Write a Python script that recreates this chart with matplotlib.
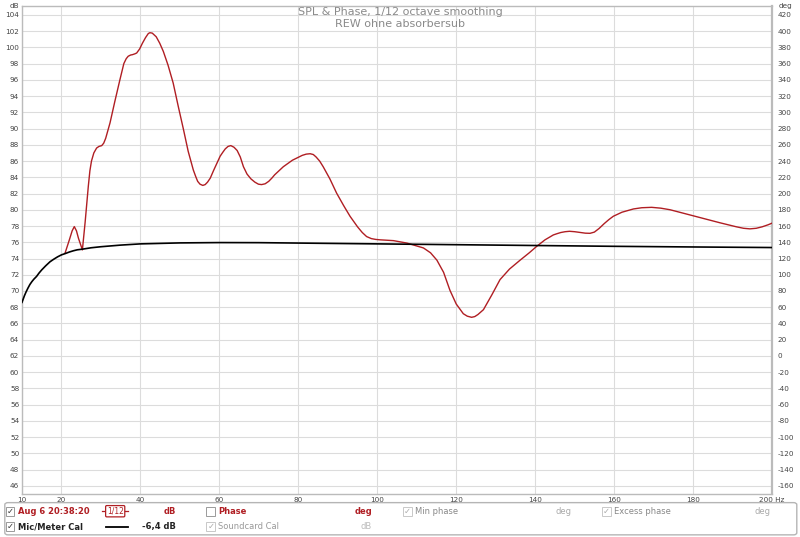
"""
REW style SPL & Phase plot (1/12 octave smoothing), recreated with matplotlib.
"""
import numpy as np
import matplotlib
matplotlib.use("Agg")
import matplotlib.pyplot as plt
from matplotlib.patches import FancyBboxPatch, Rectangle

# ── Data ───────────────────────────────────────────────────────────────
spl_freq = [20.9, 22.0, 22.7, 23.25, 23.8, 24.3, 25.3, 26.0, 26.8, 27.2,
            27.6, 28.2, 28.9, 29.5, 30.2, 30.7, 31.2, 32.3, 33.5, 34.8,
            35.8, 36.4, 36.9, 37.5, 38.0, 38.6, 39.05, 39.8, 40.5, 41.3,
            42.0, 42.4, 43.0, 44.0, 44.9, 45.8, 47.0, 48.3, 49.6, 50.9,
            52.1, 53.4, 54.0, 54.5, 55.1, 55.8, 56.4, 57.0, 57.7, 58.5,
            60.2, 60.9, 61.5, 62.2, 62.9, 63.7, 64.5, 65.3, 66.1, 67.0,
            68.0, 69.0, 69.9, 70.7, 71.6, 72.5, 73.3, 74.0, 76.2, 78.5,
            81.0, 82.0, 83.0, 83.8, 84.5, 85.4, 86.3, 88.0, 89.7, 91.5,
            93.1, 95.0, 96.2, 97.3, 98.5, 99.6, 100.7, 104.1, 107.5, 111.7,
            113.5, 115.1, 116.8, 118.4, 120.0, 121.8, 122.8, 123.9, 124.7, 125.5,
            126.9, 129.0, 131.1, 133.5, 136.2, 138.5, 140.4, 142.5, 144.6, 145.5,
            146.5, 147.6, 148.7, 150.0, 151.4, 152.7, 153.9, 155.0, 156.2, 157.5,
            158.7, 159.8, 162.0, 164.9, 167.0, 169.5, 171.8, 174.2, 180.1, 186.8,
            191.0, 192.8, 194.4, 196.0, 197.5, 199.0, 200.0]
spl_db = [74.65, 76.3, 77.4, 77.93, 77.4, 76.5, 75.06, 78.5, 82.9, 84.8,
          86.0, 87.0, 87.6, 87.8, 87.9, 88.2, 88.8, 90.7, 93.3, 96.0,
          98.0, 98.6, 98.9, 99.05, 99.1, 99.2, 99.3, 99.8, 100.5, 101.2,
          101.7, 101.8, 101.75, 101.3, 100.5, 99.5, 97.8, 95.6, 92.7, 89.9,
          87.2, 84.9, 84.1, 83.5, 83.15, 83.0, 83.1, 83.4, 83.9, 84.8,
          86.6, 87.1, 87.5, 87.8, 87.9, 87.7, 87.3, 86.5, 85.3, 84.4,
          83.8, 83.4, 83.15, 83.1, 83.2, 83.5, 83.9, 84.3, 85.3, 86.1,
          86.7, 86.85, 86.9, 86.8, 86.5, 86.0, 85.3, 83.8, 82.05, 80.5,
          79.2, 77.9, 77.2, 76.7, 76.45, 76.35, 76.3, 76.2, 75.9, 75.3,
          74.7, 73.8, 72.3, 70.1, 68.4, 67.2, 66.9, 66.76, 66.85, 67.1,
          67.7, 69.5, 71.4, 72.7, 73.8, 74.7, 75.5, 76.3, 76.9, 77.05,
          77.2, 77.3, 77.35, 77.3, 77.2, 77.12, 77.1, 77.25, 77.7, 78.3,
          78.8, 79.2, 79.7, 80.1, 80.25, 80.3, 80.2, 80.0, 79.25, 78.4,
          77.9, 77.72, 77.65, 77.72, 77.9, 78.15, 78.35]

cal_freq = [10.0, 10.3, 10.6, 11.0, 11.5, 12.0, 12.5, 13.0, 13.7, 14.3,
            15.0, 16.0, 17.1, 18.0, 19.0, 20.0, 20.9, 22.0, 23.0, 24.0,
            25.3, 27.5, 30.0, 35.0, 40.0, 50.0, 60.0, 70.0, 80.0, 100.0,
            120.0, 140.0, 160.0, 180.0, 200.0]
cal_db = [68.6, 69.0, 69.4, 69.85, 70.35, 70.8, 71.15, 71.45, 71.8, 72.2,
          72.6, 73.1, 73.6, 73.9, 74.2, 74.45, 74.6, 74.8, 74.95, 75.07,
          75.15, 75.32, 75.45, 75.65, 75.8, 75.92, 75.96, 75.95, 75.9, 75.8,
          75.7, 75.6, 75.5, 75.42, 75.35]

x_ticks = [10, 20, 40, 60, 80, 100, 120, 140, 160, 180, 200]
x_labels = ["10", "20", "40", "60", "80", "100", "120", "140", "160", "180", "200 Hz"]
db_ticks = list(range(46, 106, 2))
deg_ticks = list(range(-160, 440, 20))

RED = "#b01e23"
GRID = "#dcdcdc"
TICK = "#444444"

# ── Figure ─────────────────────────────────────────────────────────────
fig = plt.figure(figsize=(8, 5.37), dpi=100)
ax = fig.add_axes([0.0275, 0.080, 0.9375, 0.909])

ax.plot(spl_freq, spl_db, color=RED, lw=1.0, zorder=3,
        solid_joinstyle="round")
ax.plot(cal_freq, cal_db, color="black", lw=1.2, zorder=4,
        solid_joinstyle="round")

ax.set_xlim(10, 200)
ax.set_ylim(45, 105.1)
ax.set_xticks(x_ticks)
ax.set_xticklabels(x_labels)
ax.set_yticks(db_ticks)
ax.set_yticklabels([str(v) for v in db_ticks])
ax.grid(True, color=GRID, lw=0.8, zorder=0)
ax.tick_params(axis="both", length=0, labelsize=5.2, colors=TICK, pad=2)
for s in ax.spines.values():
    s.set_color("#bbbbbb")
    s.set_linewidth(1.0)
ax.spines["right"].set_linewidth(1.6)

# right axis in degrees: 0 deg sits on 62 dB, 10 deg per dB
ax2 = ax.twinx()
lo, hi = ax.get_ylim()
ax2.set_ylim((lo - 62) * 10, (hi - 62) * 10)
ax2.set_yticks(deg_ticks)
ax2.set_yticklabels([str(v) for v in deg_ticks])
ax2.tick_params(axis="y", length=0, labelsize=5.2, colors=TICK, pad=4)
for s in ax2.spines.values():
    s.set_visible(False)

fig.text(0.018, 0.994, "dB", fontsize=5.2, color=TICK, ha="center", va="top")
fig.text(0.973, 0.994, "deg", fontsize=5.2, color=TICK, ha="left", va="top")

fig.text(0.5, 0.978, "SPL & Phase, 1/12 octave smoothing", fontsize=8.0,
         color="#8a8a8a", ha="center", va="center")
fig.text(0.5, 0.956, "REW ohne absorbersub", fontsize=8.0,
         color="#8a8a8a", ha="center", va="center")

# ── Legend panel ───────────────────────────────────────────────────────
panel = FancyBboxPatch((0.006, 0.004), 0.990, 0.060,
                       boxstyle="round,pad=0,rounding_size=0.004",
                       transform=fig.transFigure, facecolor="white",
                       edgecolor="#b5b5b5", lw=1.0)
fig.patches.append(panel)


def checkbox(x, y, checked=True, faded=False):
    w, h = 0.011, 0.0165
    fig.patches.append(Rectangle((x - w / 2, y - h / 2), w, h,
                                 transform=fig.transFigure, facecolor="white",
                                 edgecolor="#c8c8c8" if faded else "#9a9a9a",
                                 lw=0.7))
    if checked:
        fig.text(x, y, "\u2713", fontsize=6, ha="center", va="center",
                 color="#aaaaaa" if faded else "#333333")


row1, row2 = 0.048, 0.019
checkbox(0.0125, row1)
fig.text(0.023, row1, "Aug 6 20:38:20", fontsize=6, color=RED,
         weight="bold", va="center")
fig.text(0.144, row1, "1/12", fontsize=5.5, color=RED, ha="center", va="center",
         bbox=dict(boxstyle="round,pad=0.15", fc="white", ec=RED, lw=0.9))
fig.lines.append(plt.Line2D([0.128, 0.134], [row1, row1], color=RED, lw=0.9,
                            transform=fig.transFigure))
fig.lines.append(plt.Line2D([0.154, 0.160], [row1, row1], color=RED, lw=0.9,
                            transform=fig.transFigure))
fig.text(0.220, row1, "dB", fontsize=6, color=RED, weight="bold",
         ha="right", va="center")
checkbox(0.2635, row1, checked=False)
fig.text(0.273, row1, "Phase", fontsize=6, color=RED, weight="bold", va="center")
fig.text(0.465, row1, "deg", fontsize=6, color=RED, weight="bold",
         ha="right", va="center")
checkbox(0.509, row1, faded=True)
fig.text(0.519, row1, "Min phase", fontsize=6, color="#888888", va="center")
fig.text(0.714, row1, "deg", fontsize=6, color="#aaaaaa", ha="right", va="center")
checkbox(0.758, row1, faded=True)
fig.text(0.768, row1, "Excess phase", fontsize=6, color="#888888", va="center")
fig.text(0.963, row1, "deg", fontsize=6, color="#aaaaaa", ha="right", va="center")

checkbox(0.0125, row2)
fig.text(0.023, row2, "Mic/Meter Cal", fontsize=6, color="#222222",
         weight="bold", va="center")
fig.lines.append(plt.Line2D([0.132, 0.160], [row2, row2], color="black", lw=1.3,
                            transform=fig.transFigure))
fig.text(0.220, row2, "-6,4 dB", fontsize=6, color="#222222", weight="bold",
         ha="right", va="center")
checkbox(0.2635, row2, faded=True)
fig.text(0.273, row2, "Soundcard Cal", fontsize=6, color="#999999", va="center")
fig.text(0.465, row2, "dB", fontsize=6, color="#bbbbbb", ha="right", va="center")

plt.savefig("out.png", dpi=100, facecolor="white")
